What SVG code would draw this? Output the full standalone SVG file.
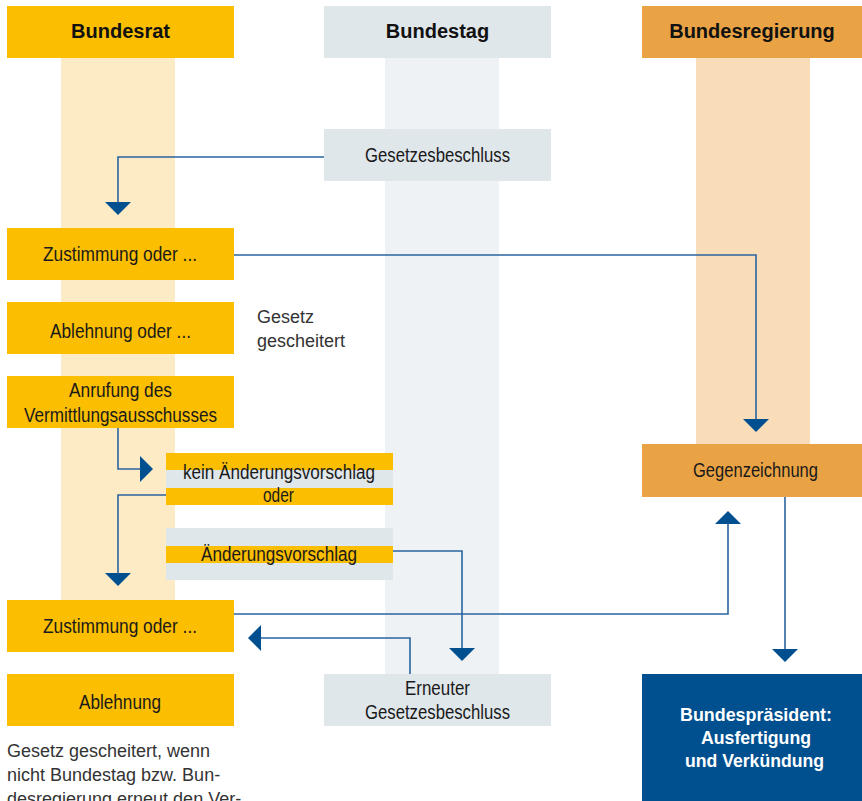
<svg xmlns="http://www.w3.org/2000/svg" width="862" height="801" viewBox="0 0 862 801">
<defs>
<style>
.hd{font-family:"Liberation Sans",Arial,sans-serif;font-weight:bold;font-size:20px;fill:#111;text-anchor:middle}
.bx{font-family:"Liberation Sans",Arial,sans-serif;font-size:20px;fill:#1a1a1a;text-anchor:middle}
.wt{font-family:"Liberation Sans",Arial,sans-serif;font-weight:bold;font-size:19px;fill:#fff;text-anchor:middle}
.nt{font-family:"Liberation Sans",Arial,sans-serif;font-size:18px;fill:#333}
.yl{fill:#fbbe00}
.gr{fill:#e0e7eb}
.or{fill:#e9a345}
.ln{fill:none;stroke:#2a64a0;stroke-width:1.6}
.ah{fill:#004f8f}
</style>
</defs>
<rect width="862" height="801" fill="#fff"/>
<g id="lanes">
<rect x="61" y="58" width="114" height="542" fill="#fdebc6"/>
<rect x="385" y="58" width="114" height="616" fill="#eef2f5"/>
<rect x="696" y="58" width="114" height="386" fill="#f9dcb8"/>
</g>
<g id="header-bundesrat"><rect class="yl" x="7" y="6" width="227" height="52"/><text class="hd" x="120.5" y="38">Bundesrat</text></g>
<g id="header-bundestag"><rect class="gr" x="324" y="6" width="227" height="52"/><text class="hd" x="437.5" y="38">Bundestag</text></g>
<g id="header-bundesregierung"><rect class="or" x="642" y="6" width="220" height="52"/><text class="hd" x="752" y="38">Bundesregierung</text></g>

<g id="gesetzesbeschluss"><rect class="gr" x="324" y="129" width="227" height="52"/><text class="bx" x="437.5" y="162" textLength="145" lengthAdjust="spacingAndGlyphs">Gesetzesbeschluss</text></g>
<g id="zustimmung1"><rect class="yl" x="7" y="228" width="227" height="52"/><text class="bx" x="120" y="261" textLength="154" lengthAdjust="spacingAndGlyphs">Zustimmung oder ...</text></g>
<g id="ablehnung1"><rect class="yl" x="7" y="302" width="227" height="52"/><text class="bx" x="120.5" y="338" textLength="141" lengthAdjust="spacingAndGlyphs">Ablehnung oder ...</text></g>
<g id="gescheitert-note"><text class="nt" x="257" y="323">Gesetz</text><text class="nt" x="257" y="347">gescheitert</text></g>
<g id="anrufung"><rect class="yl" x="7" y="376" width="227" height="52"/><text class="bx" x="120.5" y="397" textLength="103" lengthAdjust="spacingAndGlyphs">Anrufung des</text><text class="bx" x="120.5" y="422" textLength="193" lengthAdjust="spacingAndGlyphs">Vermittlungsausschusses</text></g>
<g id="kein-aenderungsvorschlag">
<rect class="yl" x="166" y="453" width="227" height="17"/><rect class="gr" x="166" y="470" width="227" height="18"/><rect class="yl" x="166" y="488" width="227" height="17"/>
<text class="bx" x="279" y="479" textLength="192" lengthAdjust="spacingAndGlyphs">kein Änderungsvorschlag</text>
<text class="bx" x="278.5" y="502" textLength="31" lengthAdjust="spacingAndGlyphs">oder</text>
</g>
<g id="aenderungsvorschlag">
<rect class="gr" x="166" y="528" width="227" height="18"/><rect class="yl" x="166" y="546" width="227" height="17"/><rect class="gr" x="166" y="563" width="227" height="17"/>
<text class="bx" x="279" y="561" textLength="156" lengthAdjust="spacingAndGlyphs">Änderungsvorschlag</text>
</g>
<g id="zustimmung2"><rect class="yl" x="7" y="600" width="227" height="52"/><text class="bx" x="120" y="633" textLength="154" lengthAdjust="spacingAndGlyphs">Zustimmung oder ...</text></g>
<g id="ablehnung2"><rect class="yl" x="7" y="674" width="227" height="52"/><text class="bx" x="120" y="709" textLength="82" lengthAdjust="spacingAndGlyphs">Ablehnung</text></g>
<g id="erneuter"><rect class="gr" x="324" y="674" width="227" height="52"/><text class="bx" x="437.5" y="695" textLength="65" lengthAdjust="spacingAndGlyphs">Erneuter</text><text class="bx" x="437.5" y="719" textLength="145" lengthAdjust="spacingAndGlyphs">Gesetzesbeschluss</text></g>
<g id="gegenzeichnung"><rect class="or" x="642" y="444" width="220" height="53"/><text class="bx" x="755.5" y="477" textLength="125" lengthAdjust="spacingAndGlyphs">Gegenzeichnung</text></g>
<g id="bundespraesident"><rect x="642" y="674" width="220" height="127" fill="#004f8f"/>
<text class="wt" x="756" y="721" textLength="152" lengthAdjust="spacingAndGlyphs">Bundespräsident:</text>
<text class="wt" x="756" y="744" textLength="110" lengthAdjust="spacingAndGlyphs">Ausfertigung</text>
<text class="wt" x="754.5" y="767" textLength="139" lengthAdjust="spacingAndGlyphs">und Verkündung</text>
</g>
<g id="bottom-note">
<text class="nt" x="7" y="757" font-size="17">Gesetz gescheitert, wenn</text>
<text class="nt" x="7" y="781" font-size="17">nicht Bundestag bzw. Bun-</text>
<text class="nt" x="7" y="805" font-size="17">desregierung erneut den Ver-</text>
</g>

<g id="connectors">
<polyline class="ln" points="324,157 118,157 118,203"/>
<polygon class="ah" points="105,202 131,202 118,215"/>
<polyline class="ln" points="234,255 756,255 756,420"/>
<polygon class="ah" points="743,419 769,419 756,432"/>
<polyline class="ln" points="118,428 118,469 141,469"/>
<polygon class="ah" points="140,456 140,482 153,469"/>
<polyline class="ln" points="166,495 118,495 118,574"/>
<polygon class="ah" points="105,573 131,573 118,586"/>
<polyline class="ln" points="393,551 462,551 462,649"/>
<polygon class="ah" points="449,648 475,648 462,661"/>
<polyline class="ln" points="234,614 728,614 728,523"/>
<polygon class="ah" points="715,524 741,524 728,511"/>
<polyline class="ln" points="410,674 410,638 261,638"/>
<polygon class="ah" points="261,625 261,651 248,638"/>
<polyline class="ln" points="785,497 785,650"/>
<polygon class="ah" points="772,649 798,649 785,662"/>
</g>
</svg>
